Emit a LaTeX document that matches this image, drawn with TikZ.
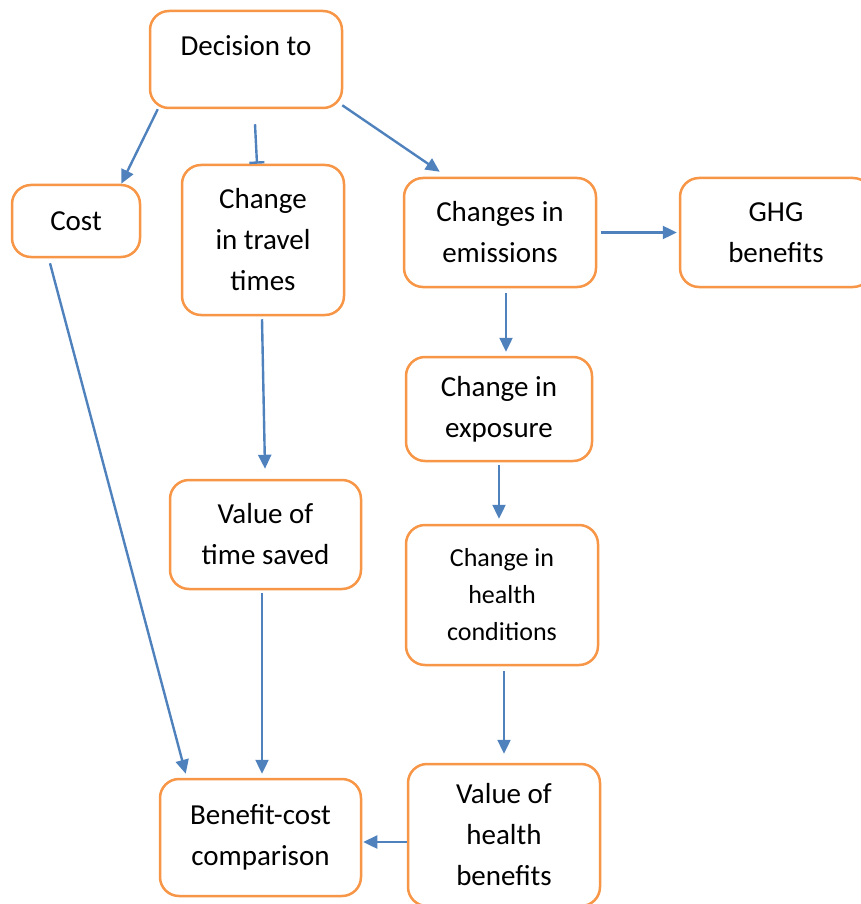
\documentclass[tikz,border=0pt]{standalone}
\usepackage{fontspec}
\setmainfont{Carlito}
\usetikzlibrary{arrows.meta}
\definecolor{boxorange}{HTML}{F79646}
\definecolor{arrowblue}{HTML}{4F81BD}
\begin{document}
\begin{tikzpicture}[x=1pt,y=-1pt,
    box/.style={draw=boxorange,line width=2.5pt,rounded corners=19pt,fill=white,
        align=center,inner sep=0pt,font=\fontsize{29pt}{41pt}\selectfont},
    link/.style={draw=arrowblue,line width=2.4pt,-{Triangle[length=14pt,width=13pt]}},
    tee/.style={draw=arrowblue,line width=2.4pt,-{Bar[width=15pt,line width=2.4pt]}}]
    \useasboundingbox (0,0) rectangle (861,904);
    \node[box,minimum width=192pt,minimum height=97pt] (dec) at (246,59.5) {\raisebox{-13pt}{Decision to}\\\mbox{}};
    \node[box,minimum width=128pt,minimum height=72pt] (cost) at (76,221) {Cost};
    \node[box,minimum width=162pt,minimum height=150pt] (travel) at (263,240) {Change\\in travel\\times};
    \node[box,minimum width=192pt,minimum height=109pt] (emis) at (500,232.5) {Changes in\\emissions};
    \node[box,minimum width=192pt,minimum height=109pt] (ghg) at (776,232.5) {GHG\\benefits};
    \node[box,minimum width=186pt,minimum height=104pt] (expo) at (499,409) {Change in\\exposure};
    \node[box,minimum width=191pt,minimum height=109pt] (saved) at (265.5,534.5) {Value of\\time saved};
    \node[box,minimum width=192pt,minimum height=140pt,font=\fontsize{26pt}{37pt}\selectfont] (health) at (502,595) {Change in\\health\\conditions};
    \node[box,minimum width=201pt,minimum height=117pt] (bcc) at (260.5,837.5) {Benefit-cost\\comparison};
    \node[box,minimum width=192pt,minimum height=142pt] (hval) at (504,835) {Value of\\health\\benefits};
    \draw[link] ([xshift=9pt]dec.south west) -- ([xshift=-20pt]cost.north east);
    \draw[tee] ([xshift=9pt,yshift=-15pt]dec.south) -- ([xshift=-6pt]travel.north);
    \draw[link] ([xshift=-1pt,yshift=4pt]dec.south east) -- ([xshift=37pt,yshift=5pt]emis.north west);
    \draw[link] ([xshift=4pt]emis.east) -- ([xshift=-2pt]ghg.west);
    \draw[link] ([xshift=6pt,yshift=-5pt]emis.south) -- ([xshift=7pt,yshift=4pt]expo.north);
    \draw[link] ([yshift=-3pt]expo.south) -- ([xshift=-3pt,yshift=5pt]health.north);
    \draw[link] ([xshift=2pt,yshift=-5pt]health.south) -- ([yshift=9pt]hval.north);
    \draw[link] ([yshift=-7pt]hval.west) -- ([xshift=1pt,yshift=-4.5pt]bcc.east);
    \draw[link] ([xshift=-1pt,yshift=-3pt]travel.south) -- ([xshift=-0.5pt,yshift=10pt]saved.north);
    \draw[link] ([xshift=-3.5pt,yshift=-3pt]saved.south) -- ([xshift=1.5pt,yshift=4pt]bcc.north);
    \draw[link] ([xshift=-26pt,yshift=-5pt]cost.south) -- ([xshift=27pt,yshift=4pt]bcc.north west);
\end{tikzpicture}
\end{document}
